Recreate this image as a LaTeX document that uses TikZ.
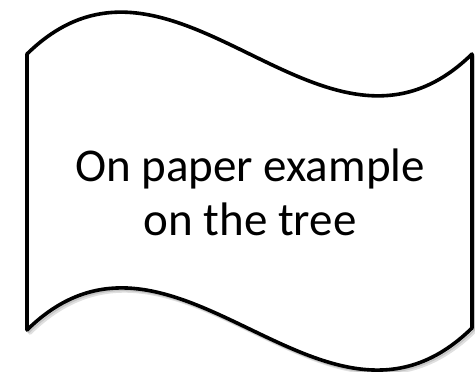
\documentclass[tikz,border=0pt]{standalone}
\usepackage{fontspec}
\setmainfont{Carlito}
\begin{document}
\begin{tikzpicture}[x=1pt,y=1pt,
  flagline/.style={line width=3.6pt,line join=round,draw=black,fill=white},
  shadowline/.style={line width=3.6pt,line join=round,draw=black,draw opacity=0.12},
  labeltext/.style={align=center,font=\fontsize{47}{54}\selectfont,inner sep=0pt}]
\useasboundingbox (0,0) rectangle (475,372);
% soft shadow
\foreach \d in {1.5,3}{
\draw[shadowline,shift={(\d,-\d)}] (27,318) .. controls (175,463) and (324,173) .. (472,318)
  -- (472,44) .. controls (324,-101) and (175,187) .. (27,42) -- cycle;
}
% flag shape
\draw[flagline] (27,318) .. controls (175,463) and (324,173) .. (472,318)
  -- (472,44) .. controls (324,-101) and (175,187) .. (27,42) -- cycle;
\node[labeltext] (label) at (250,180) {On paper example\\on the tree};
\end{tikzpicture}
\end{document}
